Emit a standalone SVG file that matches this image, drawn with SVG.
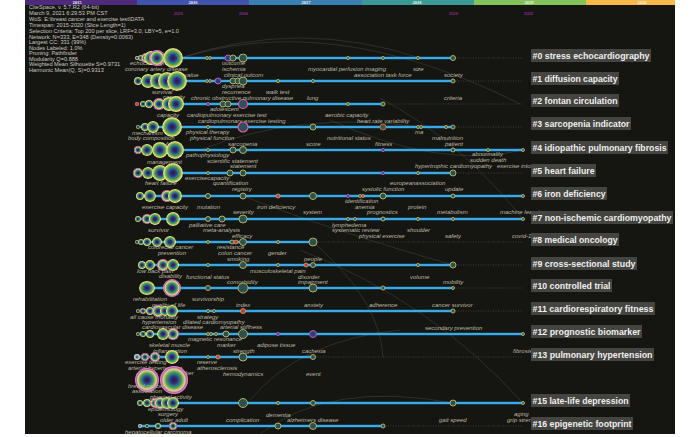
<svg xmlns="http://www.w3.org/2000/svg" width="700" height="437" viewBox="0 0 700 437">
<defs>
<radialGradient id="gY"><stop offset="0" stop-color="#1c1c44"/><stop offset="0.22" stop-color="#2e2a6e"/><stop offset="0.38" stop-color="#3b3f8f"/><stop offset="0.5" stop-color="#2e7b86"/><stop offset="0.62" stop-color="#3f9560"/><stop offset="0.74" stop-color="#7fae48"/><stop offset="0.84" stop-color="#bcc85a"/><stop offset="0.92" stop-color="#e9e7a2"/><stop offset="1" stop-color="#b8b86a"/></radialGradient>
<radialGradient id="gP"><stop offset="0" stop-color="#1c1c44"/><stop offset="0.25" stop-color="#36307a"/><stop offset="0.42" stop-color="#2e7386"/><stop offset="0.56" stop-color="#4a9a5a"/><stop offset="0.68" stop-color="#a6bd55"/><stop offset="0.78" stop-color="#d8d890"/><stop offset="0.88" stop-color="#c060b0"/><stop offset="1" stop-color="#f08ad0"/></radialGradient>
<radialGradient id="gW"><stop offset="0" stop-color="#303050"/><stop offset="0.5" stop-color="#8899aa"/><stop offset="1" stop-color="#f0f0f0"/></radialGradient>
<radialGradient id="gR"><stop offset="0" stop-color="#d02020"/><stop offset="0.6" stop-color="#e04040"/><stop offset="1" stop-color="#f0c0c0"/></radialGradient>
<style>
.bg{fill:#151511}
.hdr{font-family:"Liberation Sans",Arial,sans-serif;font-size:5.6px;fill:#c8c8c2}
.yr{font-family:"Liberation Sans",Arial,sans-serif;font-size:4px;fill:#c33fc3}
.bar{font-family:"Liberation Serif",serif;font-size:4.5px;fill:#f2f2f2;text-anchor:middle;font-weight:bold}
.kw{font-family:"Liberation Sans",Arial,sans-serif;font-size:6px;font-style:italic;fill:#bdb9a2}
.tl{stroke:#1f9ce0;stroke-width:2.4;fill:none}
.tlc{stroke:#7ccaf0;stroke-width:0.6;fill:none}
.dot{stroke:#4a4a44;stroke-width:0.8;stroke-dasharray:1 1.5;fill:none}
.cn{stroke:#707060;stroke-width:0.6;fill:none;opacity:0.5}
.n{fill:#2f4f4a;stroke:#b9bd6e;stroke-width:0.9}
.np{fill:#2f3f6a;stroke:#b060d0;stroke-width:1}
.nk{fill:#2f4f5a;stroke:#e060a8;stroke-width:1.2}
.nr{fill:#d03030;stroke:#c8b070;stroke-width:0.8}
.nb{fill:#5a4a3a;stroke:#a08060;stroke-width:1}
.lb{fill:#474743;opacity:0.95}
.lt{font-family:"Liberation Sans",Arial,sans-serif;font-size:9.5px;font-weight:bold;fill:#efefef}
</style>
</defs>
<rect x="25" y="0" width="650" height="434" class="bg"/>
<g id="yearbar">
<rect x="25" y="0" width="112" height="5" fill="#4e2a7e"/>
<rect x="137" y="0" width="112" height="5" fill="#4153ae"/>
<rect x="249" y="0" width="113" height="5" fill="#3a7fb4"/>
<rect x="362" y="0" width="112" height="5" fill="#3a9a94"/>
<rect x="474" y="0" width="112" height="5" fill="#84c25a"/>
<rect x="586" y="0" width="89" height="5" fill="#f7b94a"/>
<text class="bar" x="77" y="4">2015</text><text class="bar" x="193" y="4">2016</text><text class="bar" x="306" y="4">2017</text><text class="bar" x="417" y="4">2018</text><text class="bar" x="529" y="4">2019</text><text class="bar" x="642" y="4">2020</text>
<text class="yr" x="174" y="14.5">2015</text><text class="yr" x="239" y="14.5">2016</text><text class="yr" x="449" y="14.5">2019</text><text class="yr" x="524" y="14.5">2020</text>
</g>
<g id="header">
<text class="hdr" x="29" y="9.3">CiteSpace, v. 5.7.R2 (64-bit)</text>
<text class="hdr" x="29" y="15.3">March 9, 2021 6:29:53 PM CST</text>
<text class="hdr" x="29" y="21">WoS: E:\breast cancer and exercise test\DATA</text>
<text class="hdr" x="29" y="27">Timespan: 2015-2020 (Slice Length=1)</text>
<text class="hdr" x="29" y="33">Selection Criteria: Top 200 per slice, LRF=3.0, LBY=5, e=1.0</text>
<text class="hdr" x="29" y="38.7">Network: N=333, E=348 (Density=0.0063)</text>
<text class="hdr" x="29" y="44.3">Largest CC: 331 (99%)</text>
<text class="hdr" x="29" y="50.3">Nodes Labeled: 1.0%</text>
<text class="hdr" x="29" y="55.3">Pruning: Pathfinder</text>
<text class="hdr" x="29" y="60.7">Modularity Q=0.888</text>
<text class="hdr" x="29" y="66.3">Weighted Mean Silhouette S=0.9731</text>
<text class="hdr" x="29" y="72">Harmonic Mean(Q, S)=0.9313</text>
</g>
<g id="connectors">
<path class="cn" d="M180,58 Q300,18 420,58"/>
<path class="cn" d="M175,60 Q330,8 520,104"/>
<path class="cn" d="M200,150 Q300,110 420,127"/>
<path class="cn" d="M380,98 Q460,140 523,219"/>
<path class="cn" d="M330,120 Q440,170 523,150"/>
<path class="cn" d="M300,250 Q430,300 523,403"/>
<path class="cn" d="M250,400 Q300,340 400,330"/>
<path class="cn" d="M260,434 Q330,380 453,403"/>
<path class="cn" d="M243,196 Q330,230 453,265"/>
<path class="cn" d="M313,242 Q380,300 383,357"/>
</g>
<g id="timelines">
<path class="dot" d="M453,58H523M453,81H523M383,104H523M453,127H523M453,173H523M313,242H523M453,265H523M453,288H523M453,311H523M313,357H523M383,426H523"/>
<path class="tl" d="M140,58H453M140,81H453M140,104H383M140,127H453M140,150H523M140,173H453M140,196H523M140,219H523M140,242H313M140,265H453M140,288H453M140,311H453M140,334H523M140,357H313M140,403H523M140,426H383"/>
<path class="tlc" d="M140,58H453M140,81H453M140,104H383M140,127H453M140,150H523M140,173H453M140,196H523M140,219H523M140,242H313M140,265H453M140,288H453M140,311H453M140,334H523M140,357H313M140,403H523M140,426H383"/>
</g>
<g id="cluster-0">
<text class="kw" x="130" y="65">echocardiography</text>
<circle cx="137" cy="58" r="2" fill="url(#gP)"/><circle cx="141" cy="58" r="3" fill="url(#gY)"/><circle cx="146" cy="58" r="5" fill="url(#gP)"/><circle cx="151" cy="58" r="7" fill="url(#gY)"/><circle cx="157" cy="58" r="8" fill="url(#gP)"/><circle cx="173" cy="58" r="10" fill="url(#gY)"/>
<circle class="n" cx="207" cy="58" r="1.4"/><circle class="n" cx="210" cy="58" r="1.4"/><circle class="np" cx="228" cy="58" r="3"/><circle class="n" cx="233" cy="58" r="3"/><circle class="n" cx="243" cy="58" r="4"/><circle class="n" cx="348" cy="58" r="1.5"/><circle class="n" cx="383" cy="58" r="1.5"/><circle class="n" cx="418" cy="58" r="1.5"/><circle class="n" cx="453" cy="58" r="2.5"/>
<text class="kw" x="125" y="71">coronary artery disease</text><text class="kw" x="222" y="65">outcome</text><text class="kw" x="222" y="71">ischemia</text><text class="kw" x="308" y="71">myocardial perfusion imaging</text><text class="kw" x="413" y="71">size</text><text class="kw" x="354" y="77">association task force</text><text class="kw" x="444" y="77">society</text>
<rect class="lb" x="531" y="49" width="120" height="13"/><text class="lt" x="532.5" y="59" textLength="117" lengthAdjust="spacingAndGlyphs">#0 stress echocardiography</text>
</g>
<g id="cluster-1">
<text class="kw" x="155" y="77">prognostic value</text>
<circle cx="138" cy="81" r="4" fill="url(#gY)"/><circle cx="148" cy="81" r="7" fill="url(#gY)"/><circle cx="158" cy="81" r="8" fill="url(#gY)"/><circle cx="167" cy="81" r="9" fill="url(#gY)"/><circle cx="177" cy="81" r="10" fill="url(#gY)"/>
<circle class="n" cx="207" cy="81" r="1.4"/><circle class="n" cx="210" cy="81" r="1.4"/><circle class="np" cx="218" cy="81" r="3"/><circle class="n" cx="233" cy="81" r="3"/><circle class="n" cx="238" cy="81" r="3"/><circle class="n" cx="243" cy="81" r="4"/><circle class="n" cx="278" cy="81" r="1.5"/><circle class="n" cx="313" cy="81" r="1.5"/><circle class="n" cx="453" cy="81" r="2"/>
<text class="kw" x="224" y="77">clinical outcom</text><text class="kw" x="222" y="88">dyspnea</text><text class="kw" x="222" y="94">recurrence</text><text class="kw" x="266" y="94">walk test</text><text class="kw" x="152" y="94">survival</text><text class="kw" x="163" y="99">capacity</text><text class="kw" x="191" y="100">chronic obstructive pulmonary disease</text><text class="kw" x="307" y="100">lung</text>
<rect class="lb" x="531" y="72" width="88" height="13"/><text class="lt" x="532.5" y="82" textLength="85" lengthAdjust="spacingAndGlyphs">#1 diffusion capacity</text>
</g>
<g id="cluster-2">
<circle cx="137" cy="104" r="2" fill="url(#gR)"/><circle cx="143" cy="104" r="3" fill="url(#gY)"/><circle cx="149" cy="104" r="4" fill="url(#gY)"/><circle cx="159" cy="104" r="6" fill="url(#gP)"/><circle cx="169" cy="104" r="7" fill="url(#gY)"/><circle cx="176" cy="104" r="8" fill="url(#gY)"/>
<circle class="np" cx="208" cy="104" r="1.5"/><circle class="n" cx="223" cy="104" r="3"/><circle class="n" cx="228" cy="104" r="3"/><circle class="nk" cx="243" cy="104" r="4.5"/><circle class="n" cx="348" cy="104" r="1.5"/><circle class="n" cx="383" cy="104" r="2"/>
<text class="kw" x="444" y="100">criteria</text><text class="kw" x="210" y="111">adolescent</text><text class="kw" x="157" y="117">capacity</text><text class="kw" x="187" y="117">cardiopulmonary exercise test</text><text class="kw" x="325" y="117">aerobic capacity</text><text class="kw" x="198" y="123">cardiopulmonary exercise testing</text><text class="kw" x="357" y="123">heart rate variability</text>
<rect class="lb" x="531" y="94" width="88" height="13"/><text class="lt" x="532.5" y="104" textLength="85" lengthAdjust="spacingAndGlyphs">#2 fontan circulation</text>
</g>
<g id="cluster-3">
<text class="kw" x="132" y="135">mechanism</text><text class="kw" x="128" y="140">body composition</text><text class="kw" x="155" y="146">risk factor</text>
<circle cx="138" cy="127" r="2" fill="url(#gY)"/><circle cx="145" cy="127" r="4" fill="url(#gY)"/><circle cx="153" cy="127" r="6" fill="url(#gY)"/><circle cx="172" cy="127" r="10" fill="url(#gY)"/>
<circle class="n" cx="208" cy="127" r="1.5"/><circle class="nk" cx="243" cy="127" r="5"/><circle class="n" cx="313" cy="127" r="3"/><circle class="nb" cx="383" cy="127" r="3"/><circle class="n" cx="418" cy="127" r="1.5"/><circle class="n" cx="421" cy="127" r="1.5"/><circle class="n" cx="446" cy="127" r="1.5"/><circle class="n" cx="453" cy="127" r="2"/>
<text class="kw" x="186" y="134">physical therapy</text><text class="kw" x="190" y="140">physical function</text><text class="kw" x="327" y="140">nutritional status</text><text class="kw" x="415" y="134">ma</text><text class="kw" x="432" y="140">malnutrition</text><text class="kw" x="228" y="146">sarcopenia</text><text class="kw" x="306" y="146">score</text><text class="kw" x="375" y="146">fitness</text><text class="kw" x="445" y="146">patient</text>
<rect class="lb" x="531" y="117" width="100" height="13"/><text class="lt" x="532.5" y="127" textLength="97" lengthAdjust="spacingAndGlyphs">#3 sarcopenia indicator</text>
</g>
<g id="cluster-4">
<text class="kw" x="147" y="164">management</text>
<circle cx="138" cy="150" r="4" fill="url(#gP)"/><circle cx="147" cy="150" r="6" fill="url(#gY)"/><circle cx="160" cy="150" r="8" fill="url(#gY)"/><circle cx="175" cy="150" r="9" fill="url(#gY)"/>
<circle class="n" cx="208" cy="150" r="1.5"/><circle class="n" cx="233" cy="150" r="3"/><circle class="n" cx="243" cy="150" r="3.5"/><circle class="np" cx="383" cy="150" r="1.5"/><circle class="n" cx="453" cy="150" r="2"/><circle class="n" cx="488" cy="150" r="1.5"/><circle class="n" cx="523" cy="150" r="1.5"/>
<text class="kw" x="186" y="157">pathophysiology</text><text class="kw" x="207" y="163">scientific statement</text><text class="kw" x="230" y="168">statement</text><text class="kw" x="472" y="156">abnormality</text><text class="kw" x="470" y="162">sudden death</text><text class="kw" x="415" y="168">hypertrophic cardiomyopathy</text><text class="kw" x="497" y="168">exercise intolerance</text>
<rect class="lb" x="531" y="141" width="137" height="13"/><text class="lt" x="532.5" y="151" textLength="134" lengthAdjust="spacingAndGlyphs">#4 idiopathic pulmonary fibrosis</text>
</g>
<g id="cluster-5">
<circle cx="138" cy="173" r="5" fill="url(#gP)"/><circle cx="148" cy="173" r="6" fill="url(#gY)"/><circle cx="160" cy="173" r="8" fill="url(#gY)"/><circle cx="173" cy="173" r="10" fill="url(#gY)"/>
<text class="kw" x="145" y="185">heart failure</text>
<circle class="n" cx="208" cy="173" r="1.5"/><circle class="n" cx="230" cy="173" r="3"/><circle class="n" cx="243" cy="173" r="3"/><circle class="np" cx="383" cy="173" r="1.5"/><circle class="n" cx="418" cy="173" r="1.5"/><circle class="n" cx="453" cy="173" r="3"/>
<text class="kw" x="185" y="180">exercisecapacity</text><text class="kw" x="213" y="185">quantification</text><text class="kw" x="232" y="191">registry</text><text class="kw" x="390" y="185">europeanassociation</text><text class="kw" x="362" y="191">systolic function</text><text class="kw" x="445" y="191">update</text>
<rect class="lb" x="531" y="164" width="65" height="13"/><text class="lt" x="532.5" y="174" textLength="62" lengthAdjust="spacingAndGlyphs">#5 heart failure</text>
</g>
<g id="cluster-6">
<circle cx="140" cy="196" r="4" fill="url(#gY)"/><circle cx="150" cy="196" r="6" fill="url(#gY)"/><circle cx="167" cy="196" r="6" fill="url(#gP)"/><circle cx="175" cy="196" r="7" fill="url(#gY)"/>
<circle class="n" cx="208" cy="196" r="2.5"/><circle class="n" cx="243" cy="196" r="3"/><circle class="nr" cx="278" cy="196" r="2"/><circle class="n" cx="313" cy="196" r="3.5"/><circle class="np" cx="348" cy="196" r="1.5"/><circle class="n" cx="360" cy="196" r="1.5"/><circle class="nr" cx="363" cy="196" r="1.5"/><circle class="n" cx="383" cy="196" r="3"/><circle class="n" cx="453" cy="196" r="2"/><circle class="n" cx="523" cy="196" r="1.5"/>
<text class="kw" x="142" y="209">exercise capacity</text><text class="kw" x="197" y="209">mutation</text><text class="kw" x="257" y="209">iron deficiency</text><text class="kw" x="345" y="203">identification</text><text class="kw" x="355" y="209">anemia</text><text class="kw" x="367" y="214">prognostics</text><text class="kw" x="303" y="214">system</text><text class="kw" x="233" y="214">severity</text><text class="kw" x="408" y="209">protein</text><text class="kw" x="437" y="214">metabolism</text><text class="kw" x="500" y="214">machine learning</text>
<rect class="lb" x="531" y="187" width="76" height="13"/><text class="lt" x="532.5" y="197" textLength="73" lengthAdjust="spacingAndGlyphs">#6 iron deficiency</text>
</g>
<g id="cluster-7">
<circle cx="138" cy="219" r="3" fill="url(#gY)"/><circle cx="147" cy="219" r="5" fill="url(#gP)"/><circle cx="155" cy="219" r="6" fill="url(#gY)"/><circle cx="173" cy="219" r="7" fill="url(#gY)"/>
<circle class="n" cx="208" cy="219" r="2.5"/><circle class="n" cx="222" cy="219" r="3"/><circle class="n" cx="243" cy="219" r="4"/><circle class="n" cx="348" cy="219" r="1.5"/><circle class="n" cx="355" cy="219" r="1.5"/><circle class="n" cx="383" cy="219" r="2"/><circle class="n" cx="418" cy="219" r="1.5"/><circle class="n" cx="453" cy="219" r="1.5"/><circle class="n" cx="523" cy="219" r="1.5"/>
<text class="kw" x="189" y="227">palliative care</text><text class="kw" x="148" y="232">survivor</text><text class="kw" x="203" y="232">meta-analysis</text><text class="kw" x="332" y="227">lymphedema</text><text class="kw" x="332" y="232">systematic review</text><text class="kw" x="359" y="238">physical exercise</text><text class="kw" x="407" y="232">shoulder</text><text class="kw" x="445" y="238">safety</text><text class="kw" x="512" y="238">covid-19</text><text class="kw" x="232" y="238">efficacy</text>
<rect class="lb" x="531" y="211" width="142" height="13"/><text class="lt" x="532.5" y="221" textLength="139" lengthAdjust="spacingAndGlyphs">#7 non-ischemic cardiomyopathy</text>
</g>
<g id="cluster-8">
<circle cx="137" cy="242" r="2" fill="url(#gY)"/><circle cx="141" cy="242" r="3" fill="url(#gY)"/><circle cx="147" cy="242" r="4" fill="url(#gY)"/><circle cx="157" cy="242" r="5" fill="url(#gY)"/><circle cx="170" cy="242" r="6" fill="url(#gY)"/>
<circle class="n" cx="208" cy="242" r="1.5"/><circle class="n" cx="232" cy="242" r="2"/><circle class="nr" cx="236" cy="242" r="2"/><circle class="n" cx="243" cy="242" r="3.5"/><circle class="n" cx="278" cy="242" r="1.5"/><circle class="n" cx="313" cy="242" r="4"/>
<text class="kw" x="148" y="249">colorectal cancer</text><text class="kw" x="217" y="249">resistance</text><text class="kw" x="158" y="255">prevention</text><text class="kw" x="218" y="255">colon cancer</text><text class="kw" x="268" y="255">gender</text><text class="kw" x="227" y="261">smoking</text><text class="kw" x="304" y="261">people</text>
<rect class="lb" x="531" y="233" width="88" height="13"/><text class="lt" x="532.5" y="243" textLength="85" lengthAdjust="spacingAndGlyphs">#8 medical oncology</text>
</g>
<g id="cluster-9">
<circle cx="142" cy="265" r="4" fill="url(#gY)"/><circle cx="150" cy="265" r="5" fill="url(#gY)"/><circle cx="163" cy="265" r="6" fill="url(#gP)"/><circle cx="173" cy="265" r="6" fill="url(#gY)"/>
<circle class="n" cx="208" cy="265" r="1.5"/><circle class="n" cx="243" cy="265" r="3.5"/><circle class="n" cx="278" cy="265" r="1.5"/><circle class="nr" cx="306" cy="265" r="2"/><circle class="n" cx="313" cy="265" r="2.5"/><circle class="n" cx="418" cy="265" r="1.5"/><circle class="n" cx="453" cy="265" r="3"/>
<text class="kw" x="137" y="273">low back pain</text><text class="kw" x="250" y="273">musculoskeletal pain</text><text class="kw" x="159" y="278">disability</text><text class="kw" x="186" y="279">functional status</text><text class="kw" x="298" y="279">disorder</text><text class="kw" x="410" y="279">volume</text><text class="kw" x="227" y="284">comorbidity</text><text class="kw" x="298" y="284">impairment</text><text class="kw" x="443" y="284">mobility</text>
<rect class="lb" x="531" y="257" width="106" height="13"/><text class="lt" x="532.5" y="267" textLength="103" lengthAdjust="spacingAndGlyphs">#9 cross-sectional study</text>
</g>
<g id="cluster-10">
<ellipse cx="147" cy="288" rx="8" ry="7" fill="url(#gY)"/><circle cx="172" cy="288" r="9" fill="url(#gP)"/>
<circle class="n" cx="208" cy="288" r="2.5"/><circle class="n" cx="243" cy="288" r="5"/><circle class="n" cx="313" cy="288" r="4"/><circle class="n" cx="383" cy="288" r="2"/><circle class="n" cx="453" cy="288" r="1.5"/>
<text class="kw" x="133" y="301">rehabilitation</text><text class="kw" x="192" y="301">survivorship</text><text class="kw" x="152" y="307">quality of life</text><text class="kw" x="236" y="307">index</text><text class="kw" x="304" y="307">anxiety</text><text class="kw" x="369" y="307">adherence</text><text class="kw" x="432" y="307">cancer survivor</text>
<rect class="lb" x="531" y="279" width="81" height="13"/><text class="lt" x="532.5" y="289" textLength="78" lengthAdjust="spacingAndGlyphs">#10 controlled trial</text>
</g>
<g id="cluster-11">
<circle cx="138" cy="311" r="2" fill="url(#gY)"/><circle cx="143" cy="311" r="3" fill="url(#gP)"/><circle cx="150" cy="311" r="4" fill="url(#gY)"/><circle cx="158" cy="311" r="6" fill="url(#gP)"/><circle cx="165" cy="311" r="5" fill="url(#gY)"/><circle cx="172" cy="311" r="6" fill="url(#gY)"/>
<circle class="n" cx="208" cy="311" r="1.5"/><circle class="n" cx="214" cy="311" r="1.5"/><circle class="nr" cx="243" cy="311" r="2.5"/><circle class="n" cx="453" cy="311" r="2"/>
<text class="kw" x="130" y="319">all cause mortality</text><text class="kw" x="197" y="319">strategy</text><text class="kw" x="142" y="324">hypertension</text><text class="kw" x="183" y="324">dilated cardiomyopathy</text><text class="kw" x="142" y="329">cardiovascular disease</text><text class="kw" x="220" y="329">arterial stiffness</text><text class="kw" x="425" y="330">secondary prevention</text>
<rect class="lb" x="531" y="302" width="124" height="13"/><text class="lt" x="532.5" y="312" textLength="121" lengthAdjust="spacingAndGlyphs">#11 cardiorespiratory fitness</text>
</g>
<g id="cluster-12">
<circle cx="138" cy="334" r="2" fill="url(#gY)"/><circle cx="143" cy="334" r="3" fill="url(#gY)"/><circle cx="150" cy="334" r="4" fill="url(#gY)"/><circle cx="163" cy="334" r="6" fill="url(#gY)"/><circle cx="173" cy="334" r="6" fill="url(#gP)"/>
<circle class="n" cx="208" cy="334" r="1.5"/><circle class="n" cx="211" cy="334" r="1.5"/><circle class="n" cx="216" cy="334" r="1.5"/><circle class="n" cx="226" cy="334" r="3"/><circle class="n" cx="243" cy="334" r="4.5"/><circle class="np" cx="278" cy="334" r="1.5"/><circle class="np" cx="313" cy="334" r="3.5"/><circle class="n" cx="523" cy="334" r="1.5"/>
<text class="kw" x="188" y="341">magnetic resonance</text><text class="kw" x="149" y="347">skeletal muscle</text><text class="kw" x="217" y="347">marker</text><text class="kw" x="257" y="347">adipose tissue</text><text class="kw" x="153" y="353">inflammation</text><text class="kw" x="233" y="353">strength</text><text class="kw" x="302" y="353">cachexia</text><text class="kw" x="513" y="353">fibrosis</text>
<rect class="lb" x="531" y="325" width="111" height="13"/><text class="lt" x="532.5" y="335" textLength="108" lengthAdjust="spacingAndGlyphs">#12 prognostic biomarker</text>
</g>
<g id="cluster-13">
<circle cx="137" cy="357" r="3" fill="url(#gW)"/><circle cx="145" cy="357" r="4" fill="url(#gP)"/><circle cx="155" cy="357" r="5" fill="url(#gP)"/><circle cx="172" cy="357" r="7" fill="url(#gY)"/>
<circle class="n" cx="208" cy="357" r="1.5"/><circle class="nr" cx="218" cy="357" r="2"/><circle class="n" cx="243" cy="357" r="4"/><circle class="n" cx="313" cy="357" r="2.5"/>
<text class="kw" x="125" y="364">exercise testing</text><text class="kw" x="197" y="364">reserve</text><text class="kw" x="128" y="370">arterial hypertension</text><text class="kw" x="197" y="370">atherosclerosis</text><text class="kw" x="223" y="376">hemodynamics</text><text class="kw" x="306" y="376">event</text>
<rect class="lb" x="531" y="348" width="123" height="13"/><text class="lt" x="532.5" y="358" textLength="120" lengthAdjust="spacingAndGlyphs">#13 pulmonary hypertension</text>
</g>
<g id="cluster-14">
<text class="kw" x="167" y="375">biomarker</text>
<circle cx="147" cy="380" r="12" fill="url(#gP)"/><circle cx="174" cy="380" r="14" fill="url(#gP)"/>
<text class="kw" x="128" y="388">breast cancer</text><text class="kw" x="132" y="393">association</text>
</g>
<g id="cluster-15">
<circle cx="140" cy="403" r="3" fill="url(#gY)"/><circle cx="147" cy="403" r="4" fill="url(#gY)"/><circle cx="155" cy="403" r="5" fill="url(#gP)"/><circle cx="160" cy="403" r="6" fill="url(#gP)"/><circle cx="167" cy="403" r="6" fill="url(#gY)"/><circle cx="173" cy="403" r="6" fill="url(#gY)"/>
<circle class="n" cx="243" cy="403" r="4.5"/><circle class="n" cx="278" cy="403" r="1.5"/><circle class="n" cx="313" cy="403" r="2.5"/><circle class="n" cx="453" cy="403" r="3"/><circle class="n" cx="523" cy="403" r="1.5"/>
<text class="kw" x="150" y="399">physical activity</text><text class="kw" x="148" y="411">epidemiology</text><text class="kw" x="158" y="416">surgery</text><text class="kw" x="160" y="422">older adult</text><text class="kw" x="226" y="422">complication</text><text class="kw" x="266" y="417">dementia</text><text class="kw" x="287" y="422">alzheimers disease</text><text class="kw" x="439" y="422">gait speed</text><text class="kw" x="514" y="416">aging</text><text class="kw" x="507" y="422">grip strength</text>
<rect class="lb" x="531" y="394" width="99" height="13"/><text class="lt" x="532.5" y="404" textLength="96" lengthAdjust="spacingAndGlyphs">#15 late-life depression</text>
</g>
<g id="cluster-16">
<circle cx="140" cy="426" r="2" fill="url(#gW)"/><circle cx="147" cy="426" r="2" fill="url(#gY)"/><circle cx="158" cy="426" r="3" fill="url(#gY)"/><circle cx="173" cy="426" r="4" fill="url(#gP)"/>
<circle class="n" cx="278" cy="426" r="3"/><circle class="n" cx="313" cy="426" r="3.5"/><circle class="n" cx="383" cy="426" r="2"/>
<text class="kw" x="125" y="434">hepatocellular carcinoma</text>
<rect class="lb" x="531" y="417" width="102" height="13"/><text class="lt" x="532.5" y="427" textLength="99" lengthAdjust="spacingAndGlyphs">#16 epigenetic footprint</text>
</g>
</svg>
